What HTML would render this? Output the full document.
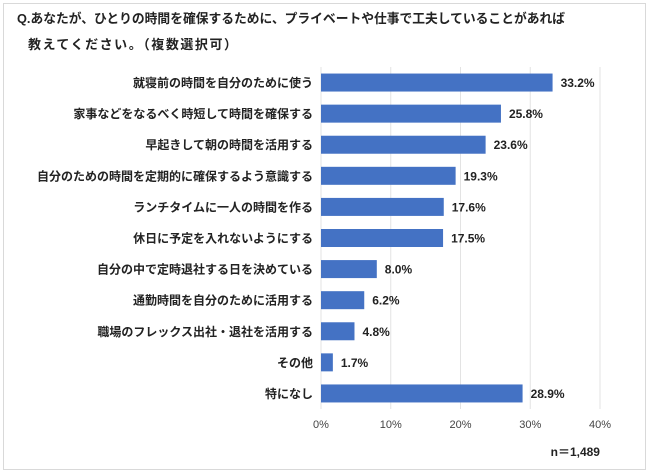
<!DOCTYPE html>
<html><head><meta charset="utf-8">
<style>
body{margin:0;background:#fff;}
svg{display:block;font-family:"Liberation Sans","Noto Sans CJK JP",sans-serif;}
</style></head><body>
<svg width="650" height="473">
<rect x="3.5" y="3.5" width="642" height="466" fill="#fff" stroke="#d9d9d9"/>
<text x="17" y="23" font-size="13" font-weight="bold" fill="#222" textLength="548" lengthAdjust="spacingAndGlyphs">Q.あなたが、ひとりの時間を確保するために、プライベートや仕事で工夫していることがあれば</text>
<text x="28" y="49" font-size="13" font-weight="bold" fill="#222" textLength="209" lengthAdjust="spacing">教えてください。（複数選択可）</text>
<g id="grid"></g>
<g id="bars"></g>
<text x="600" y="456" font-size="12" font-weight="bold" fill="#222" text-anchor="end">n＝1,489</text>
</svg>
<script>
const categories=["就寝前の時間を自分のために使う","家事などをなるべく時短して時間を確保する","早起きして朝の時間を活用する","自分のための時間を定期的に確保するよう意識する","ランチタイムに一人の時間を作る","休日に予定を入れないようにする","自分の中で定時退社する日を決めている","通勤時間を自分のために活用する","職場のフレックス出社・退社を活用する","その他","特になし"];
const values=[33.2,25.8,23.6,19.3,17.6,17.5,8.0,6.2,4.8,1.7,28.9];
const ticks=[0,10,20,30,40];
const NS="http://www.w3.org/2000/svg";
const x0=321,x1=600,xmax=40,yTop=67,yBottom=409;
const xs=v=>x0+(v/xmax)*(x1-x0);
const step=(yBottom-yTop)/categories.length;
const grid=document.getElementById('grid'),bars=document.getElementById('bars');
function mk(tag,attrs,parent){const e=document.createElementNS(NS,tag);for(const k in attrs)e.setAttribute(k,attrs[k]);parent.appendChild(e);return e;}
ticks.forEach(t=>{
  const l=mk('line',{x1:xs(t),x2:xs(t),y1:yTop,y2:yBottom,stroke:'#e3e3e3','stroke-width':1},grid);
  
  
  const tx=mk('text',{x:xs(t),y:428,'font-size':11,fill:'#444','text-anchor':'middle'},grid);
  tx.textContent=t+'%';
  
  
});
categories.forEach((c,i)=>{
  const cy=yTop+step*(i+0.5);
  const r=mk('rect',{x:x0,y:cy-9,width:xs(values[i])-x0,height:18,fill:'#4472c4'},bars);
  
  
  const lb=mk('text',{x:313,y:cy+4.5,'font-size':12,'font-weight':'bold',fill:'#222','text-anchor':'end'},bars);
  lb.textContent=c;
  
  
  const v=mk('text',{x:xs(values[i])+8,y:cy+4.5,'font-size':12,'font-weight':'bold',fill:'#222'},bars);
  v.textContent=values[i].toFixed(1)+'%';
  
  
});
</script>
</body></html>
